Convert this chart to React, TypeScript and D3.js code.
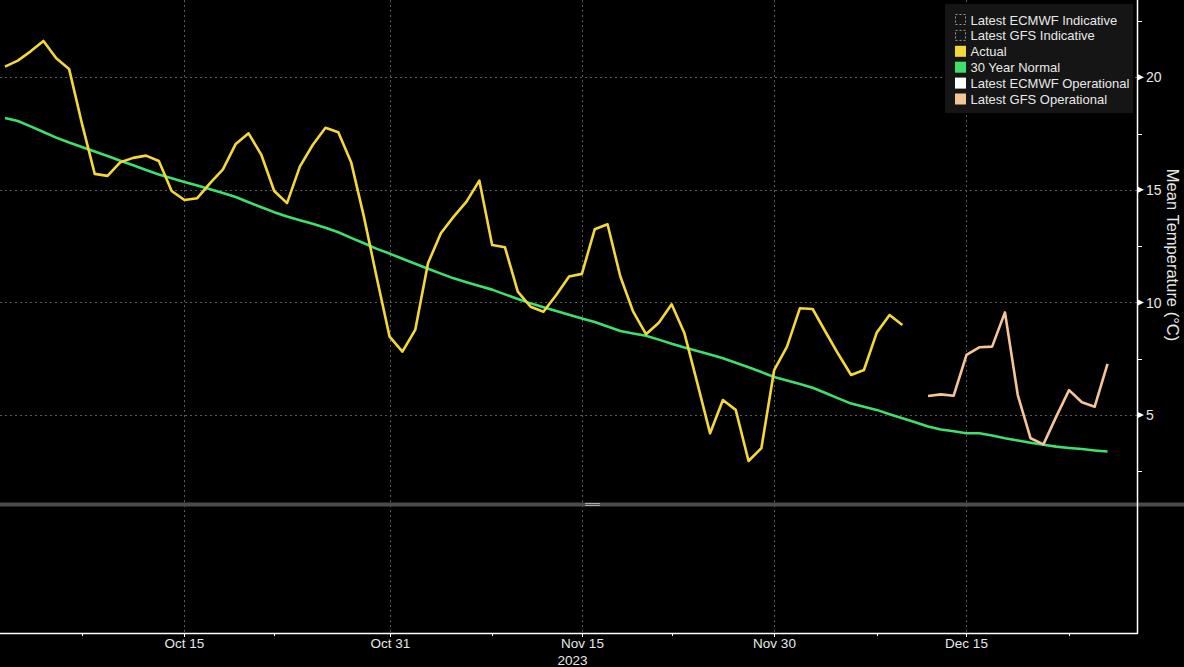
//@ts-nocheck
import React, { useRef, useEffect } from 'react'
import * as d3 from 'd3'

// daily series, first value on the given day
const actualFirstDay = '2023-10-01'
const actual = [
  20.47, 20.74, 21.15, 21.61, 20.84, 20.37, 17.95, 15.71, 15.62, 16.23,
  16.42, 16.52, 16.28, 14.95, 14.55, 14.63, 15.3, 15.91, 17.04, 17.51,
  16.55, 14.95, 14.41, 16.03, 16.99, 17.76, 17.56, 16.23, 13.8, 11.1,
  8.48, 7.82, 8.78, 11.75, 13.07, 13.81, 14.48, 15.41, 12.55, 12.45,
  10.48, 9.81, 9.59, 10.33, 11.15, 11.27, 13.25, 13.47, 11.15, 9.59,
  8.59, 9.1, 9.92, 8.63, 6.43, 4.19, 5.67, 5.23, 2.96, 3.53,
  7.0, 8.04, 9.74, 9.71, 8.7, 7.71, 6.78, 7.0, 8.66, 9.44,
  9.0
]

const gfsFirstDay = '2023-12-12'
const gfsOperational = [
  5.85, 5.92, 5.86, 7.67, 8.01, 8.04, 9.56, 5.89, 3.97, 3.7,
  4.93, 6.11, 5.57, 5.37, 7.27
]

const normalFirstDay = '2023-10-01'
const normal30y = [
  18.19, 18.06, 17.82, 17.57, 17.32, 17.1, 16.9, 16.7, 16.5, 16.29,
  16.09, 15.88, 15.68, 15.52, 15.35, 15.19, 15.03, 14.86, 14.68, 14.45,
  14.23, 14.01, 13.82, 13.65, 13.49, 13.32, 13.12, 12.87, 12.63, 12.38,
  12.17, 11.94, 11.72, 11.5, 11.28, 11.07, 10.9, 10.73, 10.57, 10.36,
  10.15, 9.96, 9.79, 9.62, 9.45, 9.29, 9.13, 8.93, 8.73, 8.62,
  8.52, 8.35, 8.17, 8.0, 7.84, 7.69, 7.52, 7.32, 7.12, 6.91,
  6.69, 6.54, 6.38, 6.21, 5.98, 5.74, 5.51, 5.37, 5.23, 5.04,
  4.86, 4.68, 4.49, 4.36, 4.28, 4.19, 4.19, 4.09, 3.97, 3.87,
  3.77, 3.68, 3.6, 3.54, 3.49, 3.43, 3.38
]

const majorTicks = ['2023-10-15', '2023-10-31', '2023-11-15', '2023-11-30', '2023-12-15']
const majorLabels = ['Oct 15', 'Oct 31', 'Nov 15', 'Nov 30', 'Dec 15']
const yearLabel = '2023'
const minorTicks = ['2023-10-07', '2023-10-22', '2023-11-08', '2023-11-22', '2023-12-08', '2023-12-23']

const yTicks = [5, 10, 15, 20]
const yMinorTicks = [2.5, 7.5, 12.5, 17.5, 22.5]
const yTitle = 'Mean Temperature (°C)'

const legendLabels = [
  'Latest ECMWF Indicative',
  'Latest GFS Indicative',
  'Actual',
  '30 Year Normal',
  'Latest ECMWF Operational',
  'Latest GFS Operational'
]
const legendColors = [null, null, '#f4d83a', '#3fdf6c', '#ffffff', '#f6c596']

const FONT = "'Liberation Sans', Arial, sans-serif"

const parseDay = d3.utcParse('%Y-%m-%d')

const toPoints = (first, values) => {
  const d0 = parseDay(first)
  return values.map((v, i) => ({ date: d3.utcDay.offset(d0, i), value: v }))
}

const TempChart = () => {
  const node = useRef(null)

  useEffect(() => {
    const width = 1184
    const height = 667
    const right = 1137
    const upperBottom = 502
    const axisY = 633

    const svg = d3.select(node.current)
    svg.selectAll('*').remove()
    svg.attr('width', width).attr('height', height)

    svg.append('rect').attr('width', width).attr('height', height).attr('fill', '#000')

    const x = d3
      .scaleUtc()
      .domain([new Date(Date.UTC(2023, 8, 30, 14, 40)), new Date(Date.UTC(2023, 11, 28, 7, 12))])
      .range([0, right])

    const y = d3.scaleLinear().domain([1.14, 23.43]).range([upperBottom, 0])

    // grid
    const grid = svg.append('g').attr('stroke', '#5a5a5a').attr('stroke-width', 1).attr('stroke-dasharray', '2,3')
    yTicks.forEach((t) => {
      grid.append('line').attr('x1', 0).attr('x2', right).attr('y1', Math.round(y(t)) + 0.5).attr('y2', Math.round(y(t)) + 0.5)
    })
    majorTicks.forEach((t) => {
      const xx = Math.round(x(parseDay(t))) + 0.5
      grid.append('line').attr('x1', xx).attr('x2', xx).attr('y1', 0).attr('y2', axisY)
    })

    // lines
    svg.append('clipPath').attr('id', 'upper').append('rect').attr('x', 0).attr('y', 0).attr('width', right).attr('height', upperBottom)

    const line = d3
      .line()
      .x((d) => x(d.date))
      .y((d) => y(d.value))

    const series = [
      { data: toPoints(normalFirstDay, normal30y), color: legendColors[3] },
      { data: toPoints(actualFirstDay, actual), color: legendColors[2] },
      { data: toPoints(gfsFirstDay, gfsOperational), color: legendColors[5] }
    ]
    series.forEach((s) => {
      svg
        .append('path')
        .attr('clip-path', 'url(#upper)')
        .attr('d', line(s.data))
        .attr('fill', 'none')
        .attr('stroke', s.color)
        .attr('stroke-width', 2.6)
        .attr('stroke-linejoin', 'round')
    })

    // panel separator
    svg.append('rect').attr('x', 0).attr('y', 502.5).attr('width', width).attr('height', 4).attr('fill', '#4b4b4b')
    svg.append('line').attr('x1', 585).attr('x2', 600).attr('y1', 503.5).attr('y2', 503.5).attr('stroke', '#a8a8a8')
    svg.append('line').attr('x1', 585).attr('x2', 600).attr('y1', 505.5).attr('y2', 505.5).attr('stroke', '#a8a8a8')

    // right axis
    svg.append('line').attr('x1', right + 0.5).attr('x2', right + 0.5).attr('y1', 0).attr('y2', axisY + 0.5).attr('stroke', '#fff').attr('stroke-width', 1.5)
    yTicks.forEach((t) => {
      const yy = y(t)
      svg
        .append('path')
        .attr('d', `M${right},${yy - 3.5}L${right + 7},${yy}L${right},${yy + 3.5}Z`)
        .attr('fill', '#fff')
      svg
        .append('text')
        .attr('x', right + 9)
        .attr('y', yy)
        .attr('dy', '0.36em')
        .attr('fill', '#e8e8e8')
        .attr('font-family', FONT)
        .attr('font-size', 14)
        .text(t)
    })
    yMinorTicks.forEach((t) => {
      const yy = Math.round(y(t)) + 0.5
      svg.append('line').attr('x1', right).attr('x2', right + 5).attr('y1', yy).attr('y2', yy).attr('stroke', '#fff')
    })
    svg
      .append('text')
      .attr('transform', `translate(1167,255) rotate(90)`)
      .attr('text-anchor', 'middle')
      .attr('fill', '#e8e8e8')
      .attr('font-family', FONT)
      .attr('font-size', 16.5)
      .text(yTitle)

    // bottom axis
    svg.append('line').attr('x1', 0).attr('x2', right + 1).attr('y1', axisY + 0.5).attr('y2', axisY + 0.5).attr('stroke', '#fff').attr('stroke-width', 1.5)
    majorTicks.forEach((t, i) => {
      const xx = Math.round(x(parseDay(t))) + 0.5
      svg.append('line').attr('x1', xx).attr('x2', xx).attr('y1', axisY).attr('y2', axisY + 4).attr('stroke', '#fff')
      svg
        .append('text')
        .attr('x', xx)
        .attr('y', 648)
        .attr('text-anchor', 'middle')
        .attr('fill', '#e8e8e8')
        .attr('font-family', FONT)
        .attr('font-size', 13.5)
        .text(majorLabels[i])
      if (i === 2) {
        svg
          .append('text')
          .attr('x', xx - 25)
          .attr('y', 665)
          .attr('fill', '#e8e8e8')
          .attr('font-family', FONT)
          .attr('font-size', 13.5)
          .text(yearLabel)
      }
    })
    minorTicks.forEach((t) => {
      const xx = Math.round(x(parseDay(t))) + 0.5
      svg.append('line').attr('x1', xx).attr('x2', xx).attr('y1', axisY).attr('y2', axisY + 3).attr('stroke', '#fff')
    })

    // legend
    const legend = svg.append('g').attr('transform', 'translate(945,4)')
    legend.append('rect').attr('width', 188).attr('height', 109).attr('fill', '#151515')
    legendLabels.forEach((label, i) => {
      const cy = 15.5 + i * 15.9
      const c = legendColors[i]
      if (c) {
        legend.append('rect').attr('x', 10).attr('y', cy - 5.5).attr('width', 11).attr('height', 11).attr('fill', c)
      } else {
        legend
          .append('rect')
          .attr('x', 10.5)
          .attr('y', cy - 5)
          .attr('width', 10)
          .attr('height', 10)
          .attr('fill', 'none')
          .attr('stroke', '#9a9a9a')
          .attr('stroke-dasharray', '2,2')
      }
      legend
        .append('text')
        .attr('x', 25.5)
        .attr('y', cy + 5)
        .attr('fill', '#e8e8e8')
        .attr('font-family', FONT)
        .attr('font-size', 13)
        .text(label)
    })
  }, [node])

  return <svg ref={node} style={{ position: 'absolute', left: 0, top: 0, display: 'block' }}></svg>
}

export default function App() {
  return <TempChart />
}
